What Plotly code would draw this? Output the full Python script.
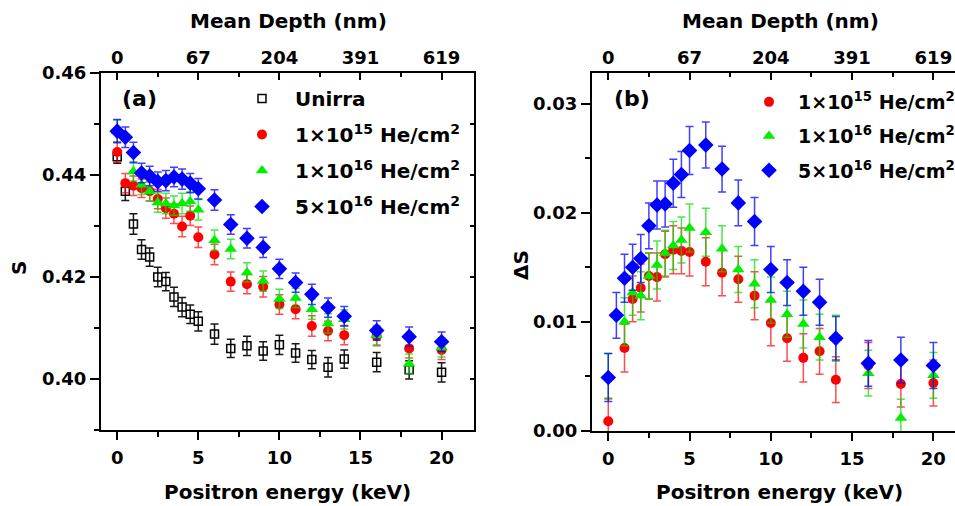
import plotly.graph_objects as go

W, H = 955, 506

# ---------------- data ----------------
energy = [0, 0.5, 1, 1.5, 2, 2.5, 3, 3.5, 4, 4.5, 5, 6, 7, 8, 9, 10, 11, 12, 13, 14, 16, 18, 20]
depth_tick_E = [0, 5, 10, 15, 20]
depth_tick_labels = ["0", "67", "204", "391", "619"]

# panel (a): S parameter
S_unirra = [0.4436, 0.4368, 0.4304, 0.4254, 0.4239, 0.4200, 0.4191, 0.4161, 0.4141, 0.4127, 0.4113, 0.4088,
            0.4060, 0.4065, 0.4055, 0.4067, 0.4051, 0.4038, 0.4023, 0.4039, 0.4033, 0.4018, 0.4013]
S_unirra_err = [0.0013, 0.0018, 0.0020, 0.0019, 0.0018, 0.0019, 0.0018, 0.0019, 0.0019, 0.0018, 0.0019, 0.0020,
                0.0018, 0.0019, 0.0018, 0.0019, 0.0018, 0.0018, 0.0019, 0.0018, 0.0019, 0.0018, 0.0019]
S_1e15 = [0.4445, 0.4384, 0.4379, 0.4374, 0.4368, 0.4353, 0.4335, 0.4324, 0.4299, 0.4320, 0.4278, 0.4244,
          0.4191, 0.4186, 0.4181, 0.4146, 0.4137, 0.4104, 0.4094, 0.4086, 0.4084, 0.4060, 0.4057]
S_1e15_err = [0.0020, 0.0019, 0.0019, 0.0018, 0.0019, 0.0019, 0.0020, 0.0019, 0.0020, 0.0019, 0.0020, 0.0020,
              0.0019, 0.0019, 0.0020, 0.0019, 0.0019, 0.0020, 0.0019, 0.0019, 0.0019, 0.0019, 0.0019]
S_1e16 = [0.4486, None, 0.4407, 0.4381, 0.4368, 0.4346, 0.4344, 0.4340, 0.4344, 0.4348, 0.4332, 0.4272,
          0.4255, 0.4209, 0.4192, 0.4157, 0.4159, 0.4137, 0.4109, 0.4117, 0.4086, 0.4030, 0.4062]
S_1e16_err = [0.0022, None, 0.0019, 0.0019, 0.0019, 0.0019, 0.0020, 0.0019, 0.0020, 0.0019, 0.0020, 0.0020,
              0.0019, 0.0019, 0.0020, 0.0019, 0.0019, 0.0020, 0.0019, 0.0019, 0.0019, 0.0019, 0.0019]
S_5e16 = [0.4486, 0.4474, 0.4444, 0.4404, 0.4398, 0.4387, 0.4389, 0.4396, 0.4392, 0.4384, 0.4373, 0.4351,
          0.4303, 0.4276, 0.4258, 0.4216, 0.4189, 0.4166, 0.4140, 0.4123, 0.4095, 0.4083, 0.4073]
S_5e16_err = [0.0023, 0.0020, 0.0020, 0.0019, 0.0019, 0.0019, 0.0020, 0.0019, 0.0020, 0.0019, 0.0020, 0.0020,
              0.0019, 0.0019, 0.0020, 0.0019, 0.0019, 0.0020, 0.0019, 0.0019, 0.0019, 0.0019, 0.0019]

# panel (b): delta S
dS_1e15 = [0.0009, None, 0.0076, 0.0121, 0.0131, 0.0142, 0.0141, 0.0162, 0.0166, 0.0165, 0.0164, 0.0155,
           0.0145, 0.0139, 0.0124, 0.0099, 0.0085, 0.0067, 0.0073, 0.0047, 0.0060, 0.0043, 0.0044]
dS_1e15_err = [0.0021, None, 0.0022, 0.0021, 0.0022, 0.0021, 0.0022, 0.0021, 0.0022, 0.0021, 0.0022, 0.0022,
               0.0021, 0.0021, 0.0022, 0.0021, 0.0021, 0.0022, 0.0021, 0.0021, 0.0021, 0.0021, 0.0021]
dS_1e16 = [0.0050, None, 0.0100, 0.0127, 0.0124, 0.0142, 0.0152, 0.0163, 0.0170, 0.0175, 0.0186, 0.0182,
           0.0167, 0.0148, 0.0135, 0.0120, 0.0107, 0.0098, 0.0086, 0.0085, 0.0053, 0.0012, 0.0051]
dS_1e16_err = [0.0021, None, 0.0022, 0.0021, 0.0022, 0.0021, 0.0022, 0.0021, 0.0022, 0.0021, 0.0022, 0.0022,
               0.0021, 0.0021, 0.0022, 0.0021, 0.0021, 0.0022, 0.0021, 0.0021, 0.0021, 0.0017, 0.0021]
dS_5e16 = [0.0049, 0.0106, 0.0140, 0.0150, 0.0158, 0.0188, 0.0207, 0.0208, 0.0227, 0.0235, 0.0257, 0.0262,
           0.0240, 0.0209, 0.0192, 0.0148, 0.0136, 0.0128, 0.0118, 0.0085, 0.0062, 0.0065, 0.0060]
dS_5e16_err = [0.0022, 0.0021, 0.0022, 0.0021, 0.0022, 0.0021, 0.0022, 0.0021, 0.0022, 0.0021, 0.0022, 0.0021,
               0.0021, 0.0021, 0.0022, 0.0021, 0.0021, 0.0022, 0.0021, 0.0020, 0.0021, 0.0021, 0.0021]

names = ["Unirra",
         "1×10<sup>15</sup> He/cm<sup>2</sup>",
         "1×10<sup>16</sup> He/cm<sup>2</sup>",
         "5×10<sup>16</sup> He/cm<sup>2</sup>"]

# ---------------- styles ----------------
FONT = "DejaVu Sans"
styles = [
    dict(symbol="square-open", size=8, color="black", line=dict(color="black", width=1.5), err="rgba(0,0,0,0.9)"),
    dict(symbol="circle", size=10, color="#ff0000", line=dict(width=0), err="rgba(255,0,0,0.7)"),
    dict(symbol="triangle-up", size=11, color="#00ee00", line=dict(width=0), err="rgba(0,220,0,0.7)"),
    dict(symbol="diamond", size=12, color="#0000ff", line=dict(width=0), err="rgba(0,0,255,0.75)"),
]

def px_x(p):
    return p / W

def px_y(p):
    return 1 - p / H

fig = go.Figure()

series_a = [(S_unirra, S_unirra_err), (S_1e15, S_1e15_err), (S_1e16, S_1e16_err), (S_5e16, S_5e16_err)]
for i, (ys, es) in enumerate(series_a):
    st = styles[i]
    fig.add_trace(go.Scatter(
        x=energy, y=ys, mode="markers", name=names[i],
        xaxis="x", yaxis="y", legend="legend", legendgroup=f"a{i}",
        marker=dict(symbol=st["symbol"], size=st["size"], color=st["color"], line=st["line"]),
        error_y=dict(type="data", array=es, visible=True, color=st["err"], thickness=1.5, width=4),
    ))

series_b = [(dS_1e15, dS_1e15_err), (dS_1e16, dS_1e16_err), (dS_5e16, dS_5e16_err)]
for j, (ys, es) in enumerate(series_b):
    st = styles[j + 1]
    fig.add_trace(go.Scatter(
        x=energy, y=ys, mode="markers", name=names[j + 1],
        xaxis="x3", yaxis="y3", legend="legend2", legendgroup=f"b{j}",
        marker=dict(symbol=st["symbol"], size=st["size"], color=st["color"], line=st["line"]),
        error_y=dict(type="data", array=es, visible=True, color=st["err"], thickness=1.5, width=4),
    ))

# transparent carriers so the top (depth) axes and right frame axis get drawn
fig.add_trace(go.Scatter(x=energy, y=S_unirra, mode="markers", xaxis="x2", yaxis="y2",
                         marker=dict(opacity=0), showlegend=False, hoverinfo="skip"))
fig.add_trace(go.Scatter(x=energy, y=dS_5e16, mode="markers", xaxis="x4", yaxis="y3",
                         marker=dict(opacity=0), showlegend=False, hoverinfo="skip"))

tickfont = dict(family=FONT, size=18, color="black", weight="bold")
common = dict(showgrid=False, zeroline=False, showline=True, linecolor="black", linewidth=2,
              tickcolor="black", tickwidth=2, tickfont=tickfont, automargin=False)

dom_xa = [px_x(101), px_x(474)]
dom_xb = [px_x(592), 1.0]
dom_ya = [px_y(430), px_y(73)]
dom_yb = [px_y(431), px_y(73)]
rng_xa = [-1, 22]
rng_xb = [-1, 21.33]

fig.update_layout(
    width=W, height=H, margin=dict(l=0, r=0, t=0, b=0, autoexpand=False),
    paper_bgcolor="white", plot_bgcolor="white",
    font=dict(family=FONT, color="black", weight="bold"),
    xaxis=dict(domain=dom_xa, range=rng_xa, anchor="y", side="bottom", ticks="outside", ticklen=8,
               dtick=5, tick0=0, ticklabelstandoff=2,
               minor=dict(ticks="outside", ticklen=5, tickwidth=2, tickcolor="black", dtick=2.5, tick0=0),
               **common),
    xaxis2=dict(overlaying="x", range=rng_xa, anchor="y", side="top", ticks="inside", ticklen=7,
                tickmode="array", tickvals=depth_tick_E, ticktext=depth_tick_labels,
                minor=dict(ticks="inside", ticklen=4, tickwidth=2, tickcolor="black",
                           tickmode="array", tickvals=[2.5, 7.5, 12.5, 17.5]),
                **common),
    yaxis=dict(domain=dom_ya, range=[0.39, 0.46], anchor="x", side="left", ticks="outside", ticklen=9,
               dtick=0.02, tick0=0.40, tickformat=".2f",
               minor=dict(ticks="outside", ticklen=5, tickwidth=2, tickcolor="black", dtick=0.01, tick0=0.40),
               **common),
    yaxis2=dict(overlaying="y", range=[0.39, 0.46], anchor="x", side="right", ticks="inside", ticklen=4,
                dtick=0.02, tick0=0.40, showticklabels=False,
                minor=dict(ticks="inside", ticklen=4, tickwidth=2, tickcolor="black", dtick=0.01, tick0=0.40),
                **common),
    xaxis3=dict(domain=dom_xb, range=rng_xb, anchor="y3", side="bottom", ticks="outside", ticklen=8,
                dtick=5, tick0=0, ticklabelstandoff=2,
                minor=dict(ticks="outside", ticklen=5, tickwidth=2, tickcolor="black", dtick=2.5, tick0=0),
                **common),
    xaxis4=dict(overlaying="x3", range=rng_xb, anchor="y3", side="top", ticks="inside", ticklen=7,
                tickmode="array", tickvals=depth_tick_E, ticktext=depth_tick_labels,
                minor=dict(ticks="inside", ticklen=4, tickwidth=2, tickcolor="black",
                           tickmode="array", tickvals=[2.5, 7.5, 12.5, 17.5]),
                **common),
    yaxis3=dict(domain=dom_yb, range=[0, 0.0328], anchor="x3", side="left", ticks="outside", ticklen=9,
                dtick=0.01, tick0=0, tickformat=".2f",
                minor=dict(ticks="outside", ticklen=5, tickwidth=2, tickcolor="black", dtick=0.005, tick0=0),
                **common),
    legend=dict(x=px_x(229), y=px_y(79), xanchor="left", yanchor="top", bgcolor="rgba(0,0,0,0)",
                font=dict(family=FONT, size=20, color="black", weight="bold"), itemwidth=56,
                tracegroupgap=7),
    legend2=dict(x=px_x(740), y=px_y(83), xanchor="left", yanchor="top", bgcolor="rgba(0,0,0,0)",
                 font=dict(family=FONT, size=19, color="black", weight="bold"), itemwidth=48,
                 tracegroupgap=6.5),
    showlegend=True,
)

title_font = dict(family=FONT, size=20, color="black", weight="bold")
annos = [
    ("Positron energy (keV)", 287.5, 492, 0),
    ("Positron energy (keV)", 779, 492, 0),
    ("Mean Depth (nm)", 288, 21, 0),
    ("Mean Depth (nm)", 780, 21, 0),
    ("S", 19, 268, -90),
    ("ΔS", 521, 265, -90),
]
for text, x, y, ang in annos:
    fig.add_annotation(text=text, x=px_x(x), y=px_y(y), xref="paper", yref="paper",
                       xanchor="center", yanchor="middle", showarrow=False, textangle=ang, font=title_font)

panel_font = dict(family=FONT, size=22, color="black", weight="bold")
fig.add_annotation(text="(a)", x=px_x(139), y=px_y(99), xref="paper", yref="paper",
                   xanchor="center", yanchor="middle", showarrow=False, font=panel_font)
fig.add_annotation(text="(b)", x=px_x(632), y=px_y(99), xref="paper", yref="paper",
                   xanchor="center", yanchor="middle", showarrow=False, font=panel_font)

fig.write_html("out.html")
